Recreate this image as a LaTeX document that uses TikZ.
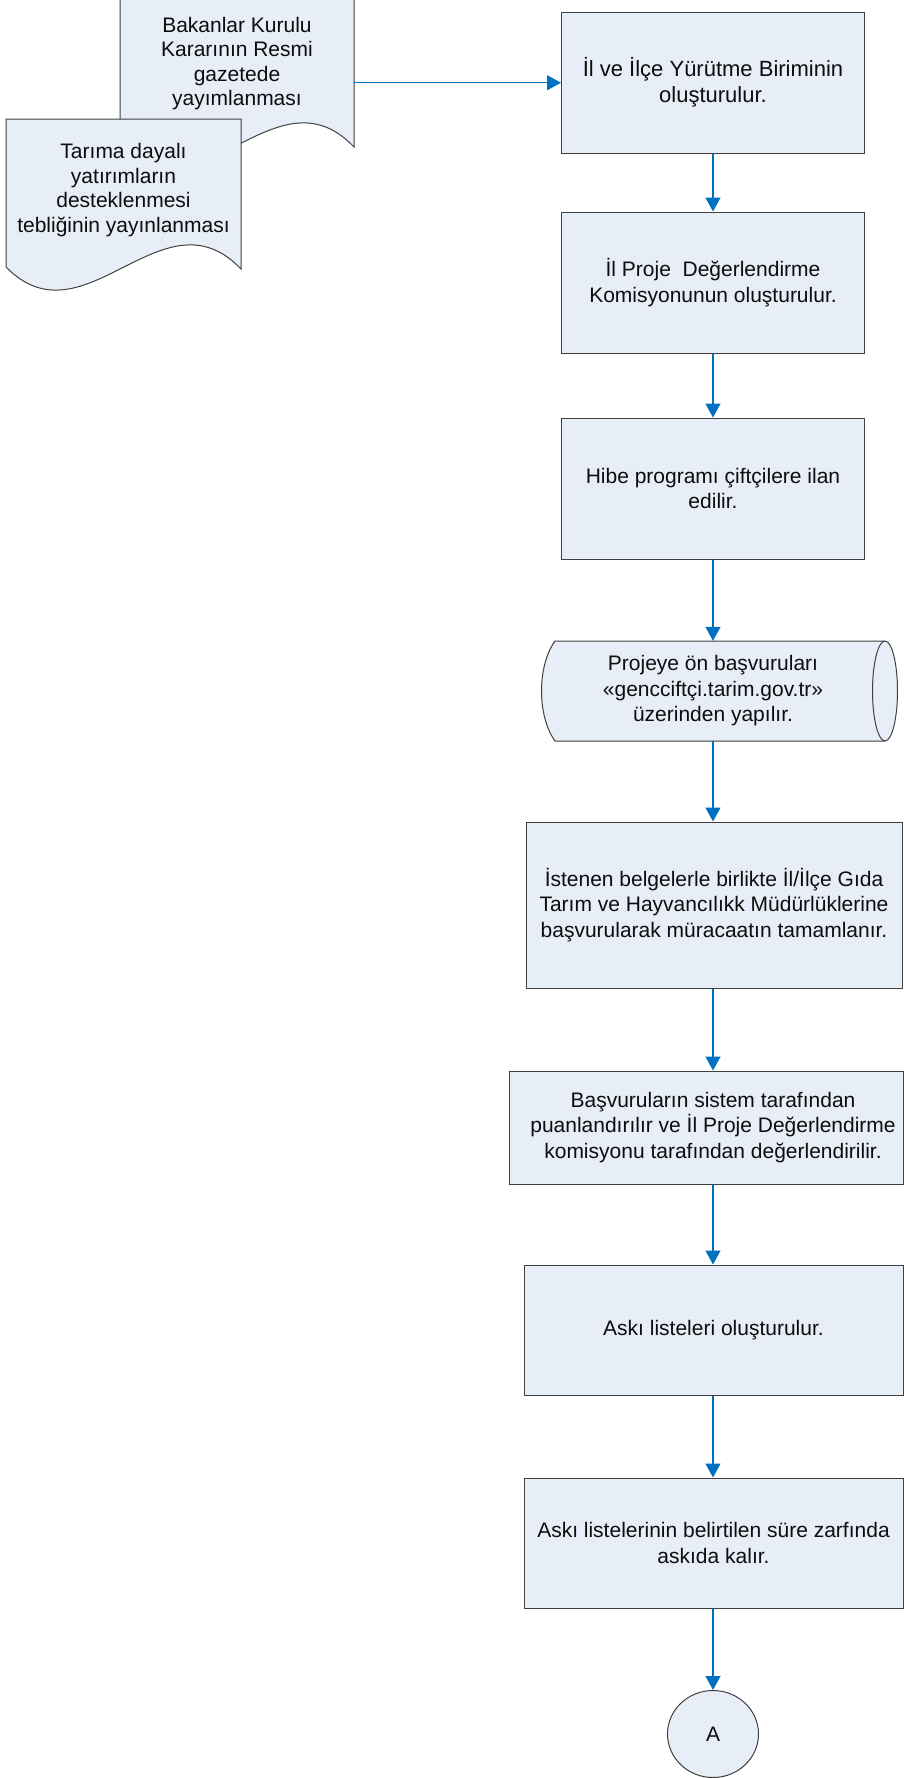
\documentclass[tikz,border=0pt]{standalone}
\usepackage{fontspec}
\setmainfont{Liberation Sans}
\usetikzlibrary{arrows.meta,shapes.geometric}
\definecolor{boxfill}{HTML}{E8EEF7}
\definecolor{boxline}{HTML}{404040}
\definecolor{arrowblue}{HTML}{0070C0}
\definecolor{txt}{HTML}{0D0D0D}
\begin{document}
\begin{tikzpicture}[x=1pt,y=-1pt,
  font=\fontsize{21}{25.5}\selectfont,
  proc/.style={rectangle, draw=boxline, line width=1pt, fill=boxfill, text=txt, align=center, inner sep=2pt},
  arr/.style={draw=arrowblue, line width=1.2pt, -{Triangle[length=14pt,width=15pt]}},
  shapeline/.style={draw=boxline, line width=1pt, fill=boxfill},
  ghost/.style={rectangle, inner sep=0pt, text=txt, align=center},
  docfont/.style={font=\fontsize{21}{24.5}\selectfont}]
\useasboundingbox (0,0) rectangle (904,1778);

% --- document shapes (top left)
\node[ghost, minimum width=234pt, minimum height=148pt] (bakdoc) at (237,71) {};
\begin{scope}
  \clip (0,0) rectangle (904,1778);
  \path[shapeline] (120,-3) -- (354,-3) -- (354,147)
     .. controls (276,65) and (198,225) .. (120,145) -- cycle;
\end{scope}
\node[ghost, docfont] (bak) at (237,63.5) {Bakanlar Kurulu\\Kararının Resmi\\gazetede\\yayımlanması};

\node[ghost, minimum width=235pt, minimum height=148pt] (tardoc) at (123.5,193) {};
\path[shapeline] (6,119) -- (241,119) -- (241,269)
   .. controls (162.7,187) and (84.3,347) .. (6,267) -- cycle;
\node[ghost, docfont] (tar) at (123.5,190) {Tarıma dayalı\\yatırımların\\desteklenmesi\\tebliğinin yayınlanması};

% --- process boxes
\node[proc, minimum width=303pt, minimum height=140.5pt, font=\fontsize{22}{26}\selectfont] (b1) at (713,82.75) {İl ve İlçe Yürütme Biriminin\\oluşturulur.};
\node[proc, minimum width=303pt, minimum height=141pt] (b2) at (713,282.5) {İl Proje\ \ Değerlendirme\\Komisyonunun oluşturulur.};
\node[proc, minimum width=303pt, minimum height=141pt] (b3) at (713,488.5) {Hibe programı çiftçilere ilan\\edilir.};

% cylinder (direct data)
\path[shapeline] (555,641) -- (885,641)
   .. controls (891.9,641) and (897.5,663.4) .. (897.5,691)
   .. controls (897.5,718.6) and (891.9,741) .. (885,741)
   -- (555,741)
   .. controls (537,716) and (537,666) .. (555,641) -- cycle;
\draw[draw=boxline, line width=1pt] (885,641)
   .. controls (878.1,641) and (872.5,663.4) .. (872.5,691)
   .. controls (872.5,718.6) and (878.1,741) .. (885,741);
\node[ghost, minimum width=300pt, minimum height=100pt] (cyl) at (713,691) {Projeye ön başvuruları\\«gencciftçi.tarim.gov.tr»\\üzerinden yapılır.};

\node[proc, minimum width=376pt, minimum height=166pt] (b5) at (714,905) {İstenen belgelerle birlikte İl/İlçe Gıda\\Tarım ve Hayvancılıkk Müdürlüklerine\\başvurularak müracaatın tamamlanır.};
\node[proc, minimum width=394pt, minimum height=113pt, inner sep=1pt] (b6) at (706,1127.5) {\hspace*{14pt}Başvuruların sistem tarafından\\\hspace*{14pt}puanlandırılır ve İl Proje Değerlendirme\\\hspace*{14pt}komisyonu tarafından değerlendirilir.};
\node[proc, minimum width=379pt, minimum height=130pt] (b7) at (713.5,1330) {Askı listeleri oluşturulur.};
\node[proc, minimum width=379pt, minimum height=130pt] (b8) at (713.5,1543) {Askı listelerinin belirtilen süre zarfında\\askıda kalır.};
\node[ellipse, draw=boxline, line width=1pt, fill=boxfill, text=txt, minimum width=91pt, minimum height=87pt, inner sep=0pt] (cA) at (713,1734) {A};

% --- connectors
\draw[arr] (bakdoc.east |- b1) -- (b1);
\draw[arr] (b1.south -| 713,0) -- (b2.north -| 713,0);
\draw[arr] (b2.south -| 713,0) -- (b3.north -| 713,0);
\draw[arr] (b3.south -| 713,0) -- (cyl.north -| 713,0);
\draw[arr] (cyl.south -| 713,0) -- (b5.north -| 713,0);
\draw[arr] (b5.south -| 713,0) -- (b6.north -| 713,0);
\draw[arr] (b6.south -| 713,0) -- (b7.north -| 713,0);
\draw[arr] (b7.south -| 713,0) -- (b8.north -| 713,0);
\draw[arr] (b8.south -| 713,0) -- (cA.north);
\end{tikzpicture}
\end{document}
